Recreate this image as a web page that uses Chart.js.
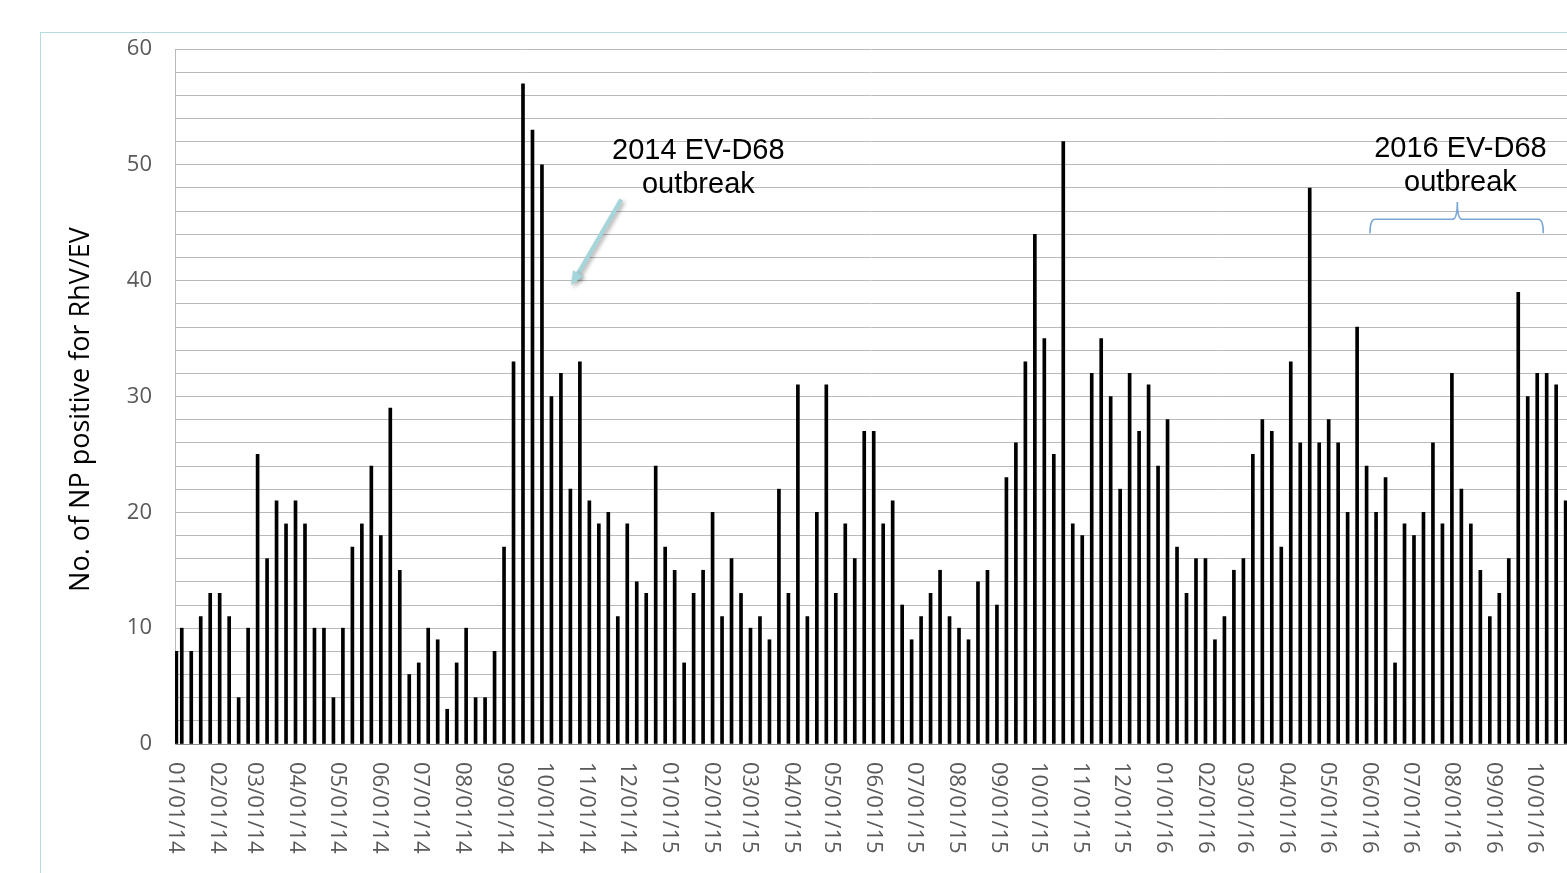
<!DOCTYPE html>
<html>
<head>
<meta charset="utf-8">
<title>RhV/EV positive nasopharyngeal samples, weekly</title>
<script src="https://cdn.jsdelivr.net/npm/chart.js@4.4.1/dist/chart.umd.min.js"></script>
<style>
  html, body { margin: 0; padding: 0; background: #fff; overflow: hidden; }
  #wrap { position: relative; width: 1567px; height: 873px; overflow: hidden; }
  #frame { position: absolute; left: 40px; top: 32px; width: 1700px; height: 1000px;
           border: 1.5px solid #b3dde3; box-sizing: border-box; }
  #c { position: absolute; left: 0; top: 0; }
</style>
</head>
<body>
<div id="wrap">
  <div id="frame"></div>
  <canvas id="c" width="1567" height="873"></canvas>
</div>
<script>
// Weekly counts of nasopharyngeal samples positive for RhV/EV.
// The first report is dated 01/01/14, the following ones are weekly from 05/01/14 (Sundays).
const firstReport = '2014-01-01';
const firstWeekly = '2014-01-05';

const positives = [
  8, 10, 8, 11, 13, 13, 11, 4, 10, 25, 16, 21, 19, 21, 19, 10, 10, 4, 10,
  17, 19, 24, 18, 29, 15, 6, 7, 10, 9, 3, 7, 10, 4, 4, 8, 17, 33,
  57, 53, 50, 30, 32, 22, 33, 21, 19, 20, 11, 19, 14, 13, 24, 17, 15, 7, 13,
  15, 20, 11, 16, 13, 10, 11, 9, 22, 13, 31, 11, 20, 31, 13, 19, 16, 27,
  27, 19, 21, 12, 9, 11, 13, 15, 11, 10, 9, 14, 15, 12, 23, 26, 33, 44, 35,
  25, 52, 19, 18, 32, 35, 30, 22, 32, 27, 31, 24, 28, 17, 13, 16, 16, 9,
  11, 15, 16, 25, 28, 27, 17, 33, 26, 48, 26, 28, 26, 20, 36, 24, 20, 23, 7,
  19, 18, 20, 26, 19, 32, 22, 19, 15, 11, 13, 16, 39, 30, 32, 32, 31, 21
];

// Month tick labels (MM/DD/YY)
const monthLabels = [
  '01/01/14', '02/01/14', '03/01/14', '04/01/14', '05/01/14', '06/01/14',
  '07/01/14', '08/01/14', '09/01/14', '10/01/14', '11/01/14', '12/01/14',
  '01/01/15', '02/01/15', '03/01/15', '04/01/15', '05/01/15', '06/01/15',
  '07/01/15', '08/01/15', '09/01/15', '10/01/15', '11/01/15', '12/01/15',
  '01/01/16', '02/01/16', '03/01/16', '04/01/16', '05/01/16', '06/01/16',
  '07/01/16', '08/01/16', '09/01/16', '10/01/16', '11/01/16'
];

const yTitle = 'No. of NP positive for RhV/EV';
const note2014 = ['2014 EV-D68', 'outbreak'];
const note2016 = ['2016 EV-D68', 'outbreak'];

// ---- date helpers: x axis is measured in days from 01/01/14 ----
const DAY_MS = 86400000;
const isoToMs = s => { const [yy, mm, dd] = s.split('-').map(Number); return Date.UTC(yy, mm - 1, dd); };
const ORIGIN = isoToMs(firstReport);
const labelDay = lbl => {
  const [mm, dd, yy] = lbl.split('/').map(Number);
  return (Date.UTC(2000 + yy, mm - 1, dd) - ORIGIN) / DAY_MS;
};
const weeklyStart = (isoToMs(firstWeekly) - ORIGIN) / DAY_MS;
const reportDays = positives.map((_, i) => i === 0 ? 0 : weeklyStart + 7 * (i - 1));
const points = positives.map((v, i) => ({ x: reportDays[i], y: v }));

// ---- decorations drawn on top of the plot ----
const decorations = {
  id: 'decorations',
  afterDraw(chart) {
    const { ctx, scales: { x, y } } = chart;
    ctx.save();

    // rotated month labels, reading top to bottom
    ctx.font = '22px "Open Sans"';
    ctx.fillStyle = '#595959';
    ctx.textAlign = 'left';
    ctx.textBaseline = 'middle';
    monthLabels.forEach(lbl => {
      const px = x.getPixelForValue(labelDay(lbl));
      if (px > chart.width + 5) return;
      ctx.save();
      ctx.translate(px - 1.5, y.bottom + 18);
      ctx.rotate(Math.PI / 2);
      ctx.fillText(lbl, 0, 0);
      ctx.restore();
    });

    // y axis title
    ctx.save();
    ctx.font = '27px "Open Sans"';
    ctx.fillStyle = '#000';
    ctx.textAlign = 'center';
    ctx.textBaseline = 'middle';
    ctx.translate(81, (y.top + y.bottom) / 2 + 13);
    ctx.rotate(-Math.PI / 2);
    ctx.fillText(yTitle, 0, 0);
    ctx.restore();

    // 2014 note and arrow
    ctx.font = '29px "Liberation Sans"';
    ctx.fillStyle = '#000';
    ctx.textAlign = 'center';
    ctx.textBaseline = 'alphabetic';
    const n1x = x.getPixelForValue(385.5);
    ctx.fillText(note2014[0], n1x, y.getPixelForValue(50.5));
    ctx.fillText(note2014[1], n1x, y.getPixelForValue(47.6));

    const ax0 = x.getPixelForValue(328.5), ay0 = y.getPixelForValue(47.0);
    const ax1 = x.getPixelForValue(291.5), ay1 = y.getPixelForValue(39.6);
    const ang = Math.atan2(ay1 - ay0, ax1 - ax0);
    ctx.save();
    ctx.shadowColor = 'rgba(0,0,0,0.35)';
    ctx.shadowBlur = 4;
    ctx.shadowOffsetX = 2;
    ctx.shadowOffsetY = 2;
    ctx.strokeStyle = '#a3d5da';
    ctx.fillStyle = '#a3d5da';
    ctx.lineWidth = 4;
    ctx.lineCap = 'butt';
    ctx.beginPath();
    ctx.moveTo(ax0, ay0);
    ctx.lineTo(ax1 - 10 * Math.cos(ang), ay1 - 10 * Math.sin(ang));
    ctx.stroke();
    ctx.beginPath();
    ctx.moveTo(ax1, ay1);
    ctx.lineTo(ax1 - 14 * Math.cos(ang) + 6 * Math.sin(ang), ay1 - 14 * Math.sin(ang) - 6 * Math.cos(ang));
    ctx.lineTo(ax1 - 14 * Math.cos(ang) - 6 * Math.sin(ang), ay1 - 14 * Math.sin(ang) + 6 * Math.cos(ang));
    ctx.closePath();
    ctx.fill();
    ctx.restore();

    // 2016 note and brace
    const n2x = x.getPixelForValue(948.3);
    ctx.fillText(note2016[0], n2x, y.getPixelForValue(50.7));
    ctx.fillText(note2016[1], n2x, y.getPixelForValue(47.7));

    const bx0 = x.getPixelForValue(881.5), bx1 = x.getPixelForValue(1009.5), bxm = x.getPixelForValue(946);
    const byH = y.getPixelForValue(45.3), byE = y.getPixelForValue(44.1), byT = y.getPixelForValue(46.8);
    const r = 5;
    ctx.strokeStyle = '#7aa6d8';
    ctx.lineWidth = 1.6;
    ctx.beginPath();
    ctx.moveTo(bx0, byE);
    ctx.quadraticCurveTo(bx0, byH, bx0 + r, byH);
    ctx.lineTo(bxm - r, byH);
    ctx.quadraticCurveTo(bxm, byH, bxm, byT);
    ctx.quadraticCurveTo(bxm, byH, bxm + r, byH);
    ctx.lineTo(bx1 - r, byH);
    ctx.quadraticCurveTo(bx1, byH, bx1, byE);
    ctx.stroke();

    ctx.restore();
  }
};

new Chart(document.getElementById('c'), {
  type: 'bar',
  data: {
    datasets: [{
      data: points,
      backgroundColor: '#000',
      borderWidth: 0,
      barThickness: 3
    }]
  },
  options: {
    responsive: false,
    animation: false,
    layout: { padding: { top: 49, left: 0, right: 0, bottom: 0 } },
    plugins: { legend: { display: false }, tooltip: { enabled: false } },
    scales: {
      x: {
        type: 'linear',
        offset: false,
        bounds: 'data',
        min: -1,
        max: 1027,
        grid: { display: false, drawTicks: false, offset: false },
        border: { display: true, color: '#8c8c8c', width: 1 },
        ticks: { display: false },
        afterFit(scale) { scale.height = 129; }
      },
      y: {
        min: 0,
        max: 60,
        grid: { color: '#bababa', lineWidth: 1, drawTicks: false },
        border: { display: true, color: '#bababa', width: 1 },
        ticks: {
          stepSize: 2,
          autoSkip: false,
          padding: 23,
          color: '#595959',
          font: { family: 'Open Sans', size: 22 },
          callback: v => (v % 10 === 0 ? String(v) : '')
        },
        afterFit(scale) { scale.width = 175; }
      }
    }
  },
  plugins: [decorations]
});
</script>
</body>
</html>
